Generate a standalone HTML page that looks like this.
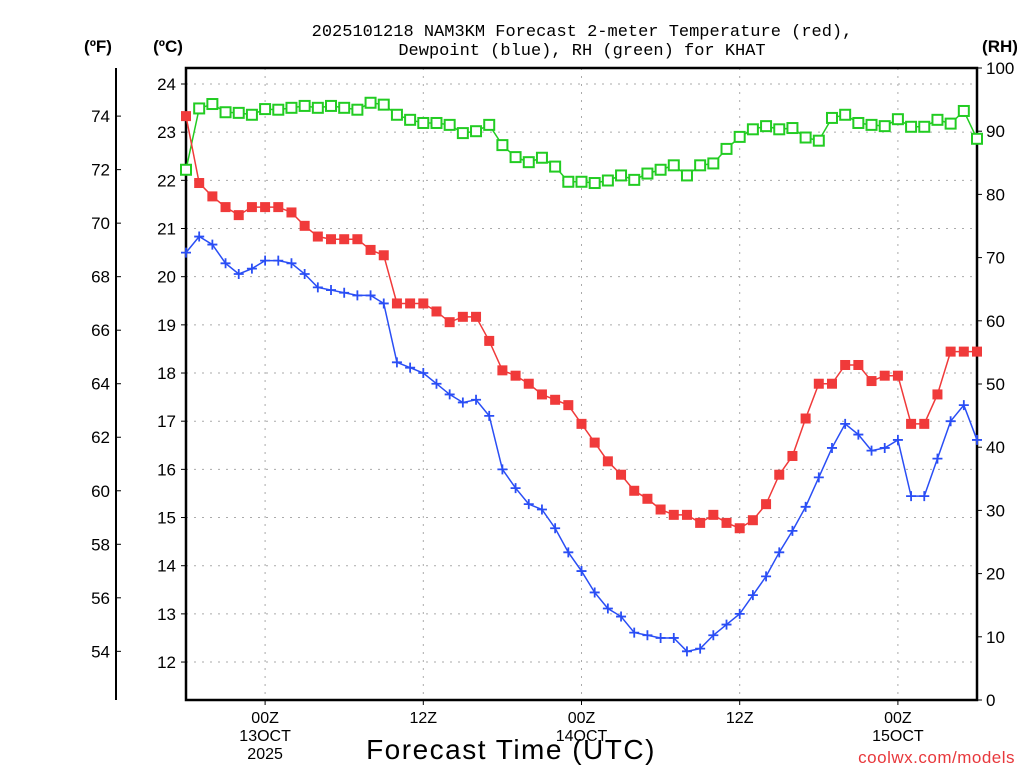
<!DOCTYPE html>
<html><head><meta charset="utf-8"><style>
body{margin:0;background:#fff;width:1024px;height:768px;overflow:hidden}
svg{display:block}
text{font-family:"Liberation Sans",sans-serif}
</style></head><body>
<svg id="chart" width="1024" height="768" viewBox="0 0 1024 768" xmlns="http://www.w3.org/2000/svg">
<text x="582" y="36" font-size="17" text-anchor="middle" style="font-family:'Liberation Mono',monospace">2025101218 NAM3KM Forecast 2-meter Temperature (red),</text>
<text x="582" y="55" font-size="17" text-anchor="middle" style="font-family:'Liberation Mono',monospace">Dewpoint (blue), RH (green) for KHAT</text>
<text x="98" y="52" font-size="17" font-weight="bold" text-anchor="middle">(ºF)</text>
<text x="168" y="52" font-size="17" font-weight="bold" text-anchor="middle">(ºC)</text>
<text x="1000" y="52" font-size="17" font-weight="bold" text-anchor="middle">(RH)</text>
<g id="grid"></g>
<g id="axes"></g>
<g id="series"></g>
<text x="511" y="759" font-size="28" text-anchor="middle" letter-spacing="1.5">Forecast Time (UTC)</text>
<text x="1015" y="763" font-size="17" fill="#e8383c" text-anchor="end" letter-spacing="0.5">coolwx.com/models</text>
</svg>
<script>
const tempF=[74.0,71.5,71.0,70.6,70.3,70.6,70.6,70.6,70.4,69.9,69.5,69.4,69.4,69.4,69.0,68.8,67.0,67.0,67.0,66.7,66.3,66.5,66.5,65.6,64.5,64.3,64.0,63.6,63.4,63.2,62.5,61.8,61.1,60.6,60.0,59.7,59.3,59.1,59.1,58.8,59.1,58.8,58.6,58.9,59.5,60.6,61.3,62.7,64.0,64.0,64.7,64.7,64.1,64.3,64.3,62.5,62.5,63.6,65.2,65.2,65.2];
const dewF=[68.9,69.5,69.2,68.5,68.1,68.3,68.6,68.6,68.5,68.1,67.6,67.5,67.4,67.3,67.3,67.0,64.8,64.6,64.4,64.0,63.6,63.3,63.4,62.8,60.8,60.1,59.5,59.3,58.6,57.7,57.0,56.2,55.6,55.3,54.7,54.6,54.5,54.5,54.0,54.1,54.6,55.0,55.4,56.1,56.8,57.7,58.5,59.4,60.5,61.6,62.5,62.1,61.5,61.6,61.9,59.8,59.8,61.2,62.6,63.2,61.9];
const rh=[83.9,93.6,94.3,93.0,92.9,92.6,93.5,93.4,93.7,94.0,93.7,94.0,93.7,93.4,94.5,94.2,92.6,91.8,91.3,91.3,91.0,89.7,90.0,91.0,87.8,85.9,85.1,85.8,84.4,82.0,82.0,81.8,82.2,83.0,82.3,83.3,83.9,84.6,83.0,84.6,84.9,87.2,89.1,90.3,90.8,90.3,90.5,89.0,88.5,92.1,92.6,91.3,91.0,90.8,91.9,90.7,90.7,91.8,91.2,93.2,88.8];
const cTicks=[12,13,14,15,16,17,18,19,20,21,22,23,24];
const fTicks=[54,56,58,60,62,64,66,68,70,72,74];
const rhTicks=[0,10,20,30,40,50,60,70,80,90,100];
const timeLabels=[[6,"00Z","13OCT","2025"],[18,"12Z","",""],[30,"00Z","14OCT",""],[42,"12Z","",""],[54,"00Z","15OCT",""]];

const NS="http://www.w3.org/2000/svg";
const L=186,R=977,T=68,B=700;
const xS=i=>L+i*(R-L)/60;
const yC=c=>84+(24-c)*48.17;
const yF=f=>yC((f-32)*5/9);
const yRH=v=>B-v*(B-T)/100;
function mk(tag,attrs,parent){const e=document.createElementNS(NS,tag);for(const k in attrs)e.setAttribute(k,attrs[k]);parent.appendChild(e);return e;}
const grid=document.getElementById('grid'),axes=document.getElementById('axes'),ser=document.getElementById('series');
cTicks.forEach(c=>{
 const g=mk('line',{x1:L,x2:R,y1:yC(c),y2:yC(c),stroke:'#aaa','stroke-dasharray':'2,6'},grid);
 
 
 mk('line',{x1:L-5,x2:L,y1:yC(c),y2:yC(c),stroke:'#000'},axes);
 const t=mk('text',{x:L-10,y:yC(c)+6,'font-size':17,'text-anchor':'end'},axes);t.textContent=c;
 
 
});
fTicks.forEach(f=>{
 mk('line',{x1:116,x2:121,y1:yF(f),y2:yF(f),stroke:'#000'},axes);
 const t=mk('text',{x:110,y:yF(f)+6,'font-size':17,'text-anchor':'end'},axes);t.textContent=f;
 
 
});
rhTicks.forEach(v=>{
 mk('line',{x1:R,x2:R+5,y1:yRH(v),y2:yRH(v),stroke:'#000'},axes);
 const t=mk('text',{x:R+9,y:yRH(v)+6,'font-size':17},axes);t.textContent=v;
 
 
});
timeLabels.forEach(([i,a,b,c])=>{
 const x=xS(i);
 const g=mk('line',{x1:x,x2:x,y1:T,y2:B,stroke:'#aaa','stroke-dasharray':'2,6'},grid);
 
 
 mk('line',{x1:x,x2:x,y1:B,y2:B+5,stroke:'#000'},axes);
 [a,b,c].forEach((s,k)=>{if(!s)return;const t=mk('text',{x:x,y:723+k*18,'font-size':16,'text-anchor':'middle'},axes);t.textContent=s;
 
 });
});
const box=mk('rect',{x:L,y:T,width:R-L,height:B-T,fill:'none',stroke:'#000','stroke-width':2.5},axes);


const fax=mk('line',{x1:116,x2:116,y1:T,y2:B,stroke:'#000','stroke-width':2},axes);



function series(vals,yf,color,kind,name){
 const g=mk('g',{},ser);
 
 
 const pl=mk('polyline',{points:vals.map((v,i)=>xS(i)+','+yf(v)).join(' '),fill:'none',stroke:color,'stroke-width':1.5},g);
 
 
 vals.forEach((v,i)=>{const x=xS(i),y=yf(v);let m;
  if(kind==='fill')m=mk('rect',{x:x-5,y:y-5,width:10,height:10,fill:color},g);
  else if(kind==='open')m=mk('rect',{x:x-5,y:y-5,width:10,height:10,fill:'#fff',stroke:color,'stroke-width':2},g);
  else m=mk('path',{d:`M${x-5} ${y}H${x+5}M${x} ${y-5}V${y+5}`,stroke:color,'stroke-width':1.8},g);
  
  
 });
}
series(rh,yRH,'#22cc22','open','rh-series');
series(tempF,yF,'#f03a3a','fill','temperature-series');
series(dewF,yF,'#2a4ef5','plus','dewpoint-series');
</script>
</body></html>
